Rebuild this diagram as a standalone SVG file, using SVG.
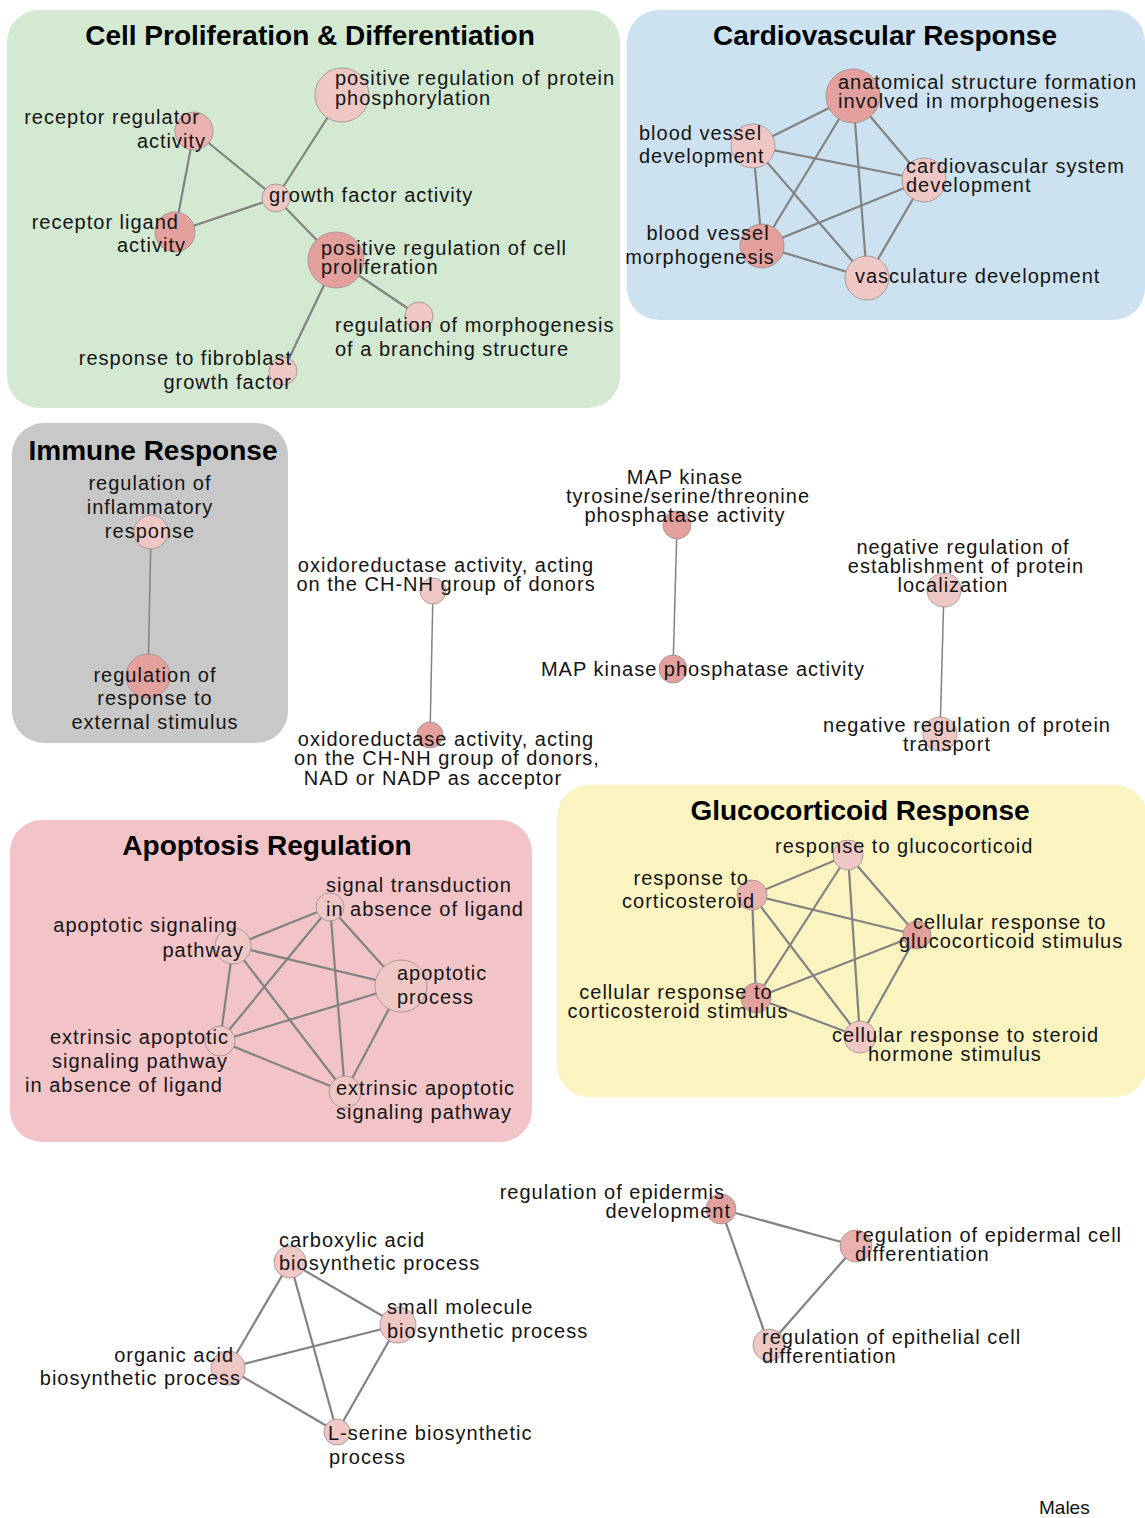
<svg xmlns="http://www.w3.org/2000/svg" width="1145" height="1518" viewBox="0 0 1145 1518">
  <style>
    .panel { stroke: none; }
    .title { font-family: "Liberation Sans", Arial, sans-serif; font-weight: bold; font-size: 28px; fill: #000; text-anchor: middle; }
    .lbl { font-family: "Liberation Sans", Arial, sans-serif; font-size: 20px; letter-spacing: 1px; fill: #141414; }
    .e { text-anchor: end; }
    .m { text-anchor: middle; }
    .n1 { fill: #efc8c5; stroke: #9a8c8c; stroke-width: 0.8; }
    .n2 { fill: #eab2ae; stroke: #9a8c8c; stroke-width: 0.8; }
    .n3 { fill: #e3a09c; stroke: #9a8c8c; stroke-width: 0.8; }
    .edges line { stroke: #828282; stroke-width: 2.2; }
    .edges line.thin { stroke-width: 1.5; }
    .foot { font-family: "Liberation Sans", Arial, sans-serif; font-size: 19px; fill: #111; }
  </style>

  <rect width="1145" height="1518" fill="#ffffff"/>

  <!-- cluster backgrounds -->
  <g id="panels">
    <rect class="panel" x="7" y="10" width="613" height="398" rx="32" fill="#d3e9d1"/>
    <rect class="panel" x="627" y="10" width="518" height="310" rx="32" fill="#cde2f0"/>
    <rect class="panel" x="12" y="423" width="276" height="320" rx="32" fill="#c8c8c8"/>
    <rect class="panel" x="10" y="820" width="522" height="322" rx="32" fill="#f2c4c8"/>
    <rect class="panel" x="557" y="785" width="590" height="312" rx="32" fill="#fbf3c0"/>
  </g>

  <g id="titles">
    <text class="title" x="310" y="45">Cell Proliferation &amp; Differentiation</text>
    <text class="title" x="885" y="45">Cardiovascular Response</text>
    <text class="title" x="153" y="460">Immune Response</text>
    <text class="title" x="267" y="855">Apoptosis Regulation</text>
    <text class="title" x="860" y="820">Glucocorticoid Response</text>
  </g>

  <!-- connectors -->
  <g id="connectors" class="edges">
    <!-- cell proliferation -->
    <line x1="194" y1="131" x2="276" y2="198"/>
    <line x1="194" y1="131" x2="175" y2="232"/>
    <line x1="175" y1="232" x2="276" y2="198"/>
    <line x1="276" y1="198" x2="342" y2="95"/>
    <line x1="276" y1="198" x2="336" y2="260"/>
    <line x1="336" y1="260" x2="419" y2="316"/>
    <line x1="336" y1="260" x2="283" y2="371"/>
    <!-- cardiovascular -->
    <line x1="853" y1="96" x2="753" y2="146"/>
    <line x1="853" y1="96" x2="924" y2="180"/>
    <line x1="853" y1="96" x2="762" y2="246"/>
    <line x1="853" y1="96" x2="867" y2="278"/>
    <line x1="753" y1="146" x2="924" y2="180"/>
    <line x1="753" y1="146" x2="762" y2="246"/>
    <line x1="753" y1="146" x2="867" y2="278"/>
    <line x1="924" y1="180" x2="762" y2="246"/>
    <line x1="924" y1="180" x2="867" y2="278"/>
    <line x1="762" y1="246" x2="867" y2="278"/>
    <!-- immune -->
    <line class="thin" x1="151" y1="532" x2="148" y2="676"/>
    <!-- pairs -->
    <line class="thin" x1="433" y1="591" x2="430" y2="735"/>
    <line class="thin" x1="677" y1="525" x2="673" y2="669"/>
    <line class="thin" x1="944" y1="590" x2="940" y2="734"/>
    <!-- apoptosis -->
    <line x1="330" y1="907" x2="233" y2="946"/>
    <line x1="330" y1="907" x2="401" y2="986"/>
    <line x1="330" y1="907" x2="220" y2="1041"/>
    <line x1="330" y1="907" x2="345" y2="1092"/>
    <line x1="233" y1="946" x2="401" y2="986"/>
    <line x1="233" y1="946" x2="220" y2="1041"/>
    <line x1="233" y1="946" x2="345" y2="1092"/>
    <line x1="401" y1="986" x2="220" y2="1041"/>
    <line x1="401" y1="986" x2="345" y2="1092"/>
    <line x1="220" y1="1041" x2="345" y2="1092"/>
    <!-- glucocorticoid -->
    <line x1="848" y1="855" x2="752" y2="895"/>
    <line x1="848" y1="855" x2="917" y2="935"/>
    <line x1="848" y1="855" x2="756" y2="998"/>
    <line x1="848" y1="855" x2="860" y2="1037"/>
    <line x1="752" y1="895" x2="917" y2="935"/>
    <line x1="752" y1="895" x2="756" y2="998"/>
    <line x1="752" y1="895" x2="860" y2="1037"/>
    <line x1="917" y1="935" x2="756" y2="998"/>
    <line x1="917" y1="935" x2="860" y2="1037"/>
    <line x1="756" y1="998" x2="860" y2="1037"/>
    <!-- biosynthetic -->
    <line x1="290" y1="1262" x2="398" y2="1325"/>
    <line x1="290" y1="1262" x2="228" y2="1368"/>
    <line x1="290" y1="1262" x2="337" y2="1432"/>
    <line x1="398" y1="1325" x2="228" y2="1368"/>
    <line x1="398" y1="1325" x2="337" y2="1432"/>
    <line x1="228" y1="1368" x2="337" y2="1432"/>
    <!-- epidermis -->
    <line x1="721" y1="1209" x2="856" y2="1246"/>
    <line x1="721" y1="1209" x2="769" y2="1345"/>
    <line x1="856" y1="1246" x2="769" y2="1345"/>
  </g>

  <!-- nodes: cell proliferation & differentiation -->
  <g id="receptor-regulator-activity">
    <circle class="n2" cx="194" cy="131" r="19"/>
    <text class="lbl e"><tspan x="200" y="124">receptor regulator</tspan><tspan x="206" y="148">activity</tspan></text>
  </g>
  <g id="pos-reg-protein-phosphorylation">
    <circle class="n1" cx="342" cy="95" r="27"/>
    <text class="lbl"><tspan x="335" y="85">positive regulation of protein</tspan><tspan x="335" y="105">phosphorylation</tspan></text>
  </g>
  <g id="growth-factor-activity">
    <circle class="n1" cx="276" cy="198" r="14"/>
    <text class="lbl" x="269" y="202">growth factor activity</text>
  </g>
  <g id="receptor-ligand-activity">
    <circle class="n3" cx="175" cy="232" r="20"/>
    <text class="lbl e"><tspan x="179" y="229">receptor ligand</tspan><tspan x="186" y="252">activity</tspan></text>
  </g>
  <g id="pos-reg-cell-proliferation">
    <circle class="n3" cx="336" cy="260" r="28"/>
    <text class="lbl"><tspan x="321" y="255">positive regulation of cell</tspan><tspan x="321" y="274">proliferation</tspan></text>
  </g>
  <g id="reg-morphogenesis-branching">
    <circle class="n1" cx="419" cy="316" r="14"/>
    <text class="lbl"><tspan x="335" y="332">regulation of morphogenesis</tspan><tspan x="335" y="356">of a branching structure</tspan></text>
  </g>
  <g id="response-fibroblast-gf">
    <circle class="n1" cx="283" cy="371" r="14"/>
    <text class="lbl e"><tspan x="292" y="365">response to fibroblast</tspan><tspan x="292" y="389">growth factor</tspan></text>
  </g>

  <!-- nodes: cardiovascular -->
  <g id="anatomical-structure-formation">
    <circle class="n3" cx="853" cy="96" r="27"/>
    <text class="lbl"><tspan x="838" y="89">anatomical structure formation</tspan><tspan x="838" y="108">involved in morphogenesis</tspan></text>
  </g>
  <g id="blood-vessel-development">
    <circle class="n1" cx="753" cy="146" r="22"/>
    <text class="lbl"><tspan x="639" y="140">blood vessel</tspan><tspan x="639" y="163">development</tspan></text>
  </g>
  <g id="cardiovascular-system-development">
    <circle class="n1" cx="924" cy="180" r="22"/>
    <text class="lbl"><tspan x="906" y="173">cardiovascular system</tspan><tspan x="906" y="192">development</tspan></text>
  </g>
  <g id="blood-vessel-morphogenesis">
    <circle class="n3" cx="762" cy="246" r="22"/>
    <text class="lbl m"><tspan x="708" y="240">blood vessel</tspan><tspan x="700" y="264">morphogenesis</tspan></text>
  </g>
  <g id="vasculature-development">
    <circle class="n1" cx="867" cy="278" r="22"/>
    <text class="lbl" x="855" y="283">vasculature development</text>
  </g>

  <!-- nodes: immune -->
  <g id="reg-inflammatory-response">
    <circle class="n1" cx="151" cy="532" r="17"/>
    <text class="lbl m"><tspan x="150" y="490">regulation of</tspan><tspan x="150" y="514">inflammatory</tspan><tspan x="150" y="538">response</tspan></text>
  </g>
  <g id="reg-response-external-stimulus">
    <circle class="n3" cx="148" cy="676" r="22"/>
    <text class="lbl m"><tspan x="155" y="682">regulation of</tspan><tspan x="155" y="705">response to</tspan><tspan x="155" y="729">external stimulus</tspan></text>
  </g>

  <!-- nodes: oxidoreductase pair -->
  <g id="oxidoreductase-chnh">
    <circle class="n1" cx="433" cy="591" r="13"/>
    <text class="lbl m"><tspan x="446" y="572">oxidoreductase activity, acting</tspan><tspan x="446" y="591">on the CH-NH group of donors</tspan></text>
  </g>
  <g id="oxidoreductase-chnh-nad">
    <circle class="n3" cx="430" cy="735" r="13"/>
    <text class="lbl m"><tspan x="446" y="746">oxidoreductase activity, acting</tspan><tspan x="447" y="765">on the CH-NH group of donors,</tspan><tspan x="433" y="785">NAD or NADP as acceptor</tspan></text>
  </g>

  <!-- nodes: MAP kinase pair -->
  <g id="mapk-tyr-ser-thr-phosphatase">
    <circle class="n3" cx="677" cy="525" r="14"/>
    <text class="lbl m"><tspan x="685" y="484">MAP kinase</tspan><tspan x="688" y="503">tyrosine/serine/threonine</tspan><tspan x="685" y="522">phosphatase activity</tspan></text>
  </g>
  <g id="mapk-phosphatase">
    <circle class="n3" cx="673" cy="669" r="14"/>
    <text class="lbl m" x="703" y="676">MAP kinase phosphatase activity</text>
  </g>

  <!-- nodes: protein localization pair -->
  <g id="neg-reg-protein-localization">
    <circle class="n1" cx="944" cy="590" r="17"/>
    <text class="lbl m"><tspan x="963" y="554">negative regulation of</tspan><tspan x="966" y="573">establishment of protein</tspan><tspan x="953" y="592">localization</tspan></text>
  </g>
  <g id="neg-reg-protein-transport">
    <circle class="n1" cx="940" cy="734" r="17"/>
    <text class="lbl m"><tspan x="967" y="732">negative regulation of protein</tspan><tspan x="947" y="751">transport</tspan></text>
  </g>

  <!-- nodes: apoptosis -->
  <g id="signal-transduction-absence-ligand">
    <circle class="n1" cx="330" cy="907" r="14"/>
    <text class="lbl"><tspan x="326" y="892">signal transduction</tspan><tspan x="326" y="916">in absence of ligand</tspan></text>
  </g>
  <g id="apoptotic-signaling-pathway">
    <circle class="n1" cx="233" cy="946" r="18"/>
    <text class="lbl e"><tspan x="238" y="932">apoptotic signaling</tspan><tspan x="244" y="957">pathway</tspan></text>
  </g>
  <g id="apoptotic-process">
    <circle class="n1" cx="401" cy="986" r="26"/>
    <text class="lbl"><tspan x="397" y="980">apoptotic</tspan><tspan x="397" y="1004">process</tspan></text>
  </g>
  <g id="extrinsic-apoptotic-absence-ligand">
    <circle class="n1" cx="220" cy="1041" r="15"/>
    <text class="lbl e"><tspan x="229" y="1044">extrinsic apoptotic</tspan><tspan x="228" y="1068">signaling pathway</tspan><tspan x="223" y="1092">in absence of ligand</tspan></text>
  </g>
  <g id="extrinsic-apoptotic-signaling">
    <circle class="n1" cx="345" cy="1092" r="16"/>
    <text class="lbl"><tspan x="336" y="1095">extrinsic apoptotic</tspan><tspan x="336" y="1119">signaling pathway</tspan></text>
  </g>

  <!-- nodes: glucocorticoid -->
  <g id="response-glucocorticoid">
    <circle class="n1" cx="848" cy="855" r="15"/>
    <text class="lbl" x="775" y="853">response to glucocorticoid</text>
  </g>
  <g id="response-corticosteroid">
    <circle class="n2" cx="752" cy="895" r="15"/>
    <text class="lbl e"><tspan x="749" y="885">response to</tspan><tspan x="755" y="908">corticosteroid</tspan></text>
  </g>
  <g id="cellular-response-glucocorticoid">
    <circle class="n3" cx="917" cy="935" r="14"/>
    <text class="lbl"><tspan x="913" y="929">cellular response to</tspan><tspan x="899" y="948">glucocorticoid stimulus</tspan></text>
  </g>
  <g id="cellular-response-corticosteroid">
    <circle class="n3" cx="756" cy="998" r="15"/>
    <text class="lbl m"><tspan x="676" y="999">cellular response to</tspan><tspan x="678" y="1018">corticosteroid stimulus</tspan></text>
  </g>
  <g id="cellular-response-steroid-hormone">
    <circle class="n1" cx="860" cy="1037" r="16"/>
    <text class="lbl"><tspan x="832" y="1042">cellular response to steroid</tspan><tspan x="868" y="1061">hormone stimulus</tspan></text>
  </g>

  <!-- nodes: biosynthetic processes -->
  <g id="carboxylic-acid-biosynthetic">
    <circle class="n1" cx="290" cy="1262" r="16"/>
    <text class="lbl"><tspan x="279" y="1247">carboxylic acid</tspan><tspan x="279" y="1270">biosynthetic process</tspan></text>
  </g>
  <g id="small-molecule-biosynthetic">
    <circle class="n1" cx="398" cy="1325" r="18"/>
    <text class="lbl"><tspan x="387" y="1314">small molecule</tspan><tspan x="387" y="1338">biosynthetic process</tspan></text>
  </g>
  <g id="organic-acid-biosynthetic">
    <circle class="n1" cx="228" cy="1368" r="17"/>
    <text class="lbl e"><tspan x="234" y="1362">organic acid</tspan><tspan x="241" y="1385">biosynthetic process</tspan></text>
  </g>
  <g id="l-serine-biosynthetic">
    <circle class="n1" cx="337" cy="1432" r="13"/>
    <text class="lbl"><tspan x="328" y="1440">L-serine biosynthetic</tspan><tspan x="329" y="1464">process</tspan></text>
  </g>

  <!-- nodes: epidermis -->
  <g id="reg-epidermis-development">
    <circle class="n3" cx="721" cy="1209" r="15"/>
    <text class="lbl e"><tspan x="725" y="1199">regulation of epidermis</tspan><tspan x="731" y="1218">development</tspan></text>
  </g>
  <g id="reg-epidermal-cell-differentiation">
    <circle class="n2" cx="856" cy="1246" r="16"/>
    <text class="lbl"><tspan x="855" y="1242">regulation of epidermal cell</tspan><tspan x="855" y="1261">differentiation</tspan></text>
  </g>
  <g id="reg-epithelial-cell-differentiation">
    <circle class="n1" cx="769" cy="1345" r="16"/>
    <text class="lbl"><tspan x="762" y="1344">regulation of epithelial cell</tspan><tspan x="762" y="1363">differentiation</tspan></text>
  </g>

  <text class="foot" x="1039" y="1514">Males</text>
</svg>
